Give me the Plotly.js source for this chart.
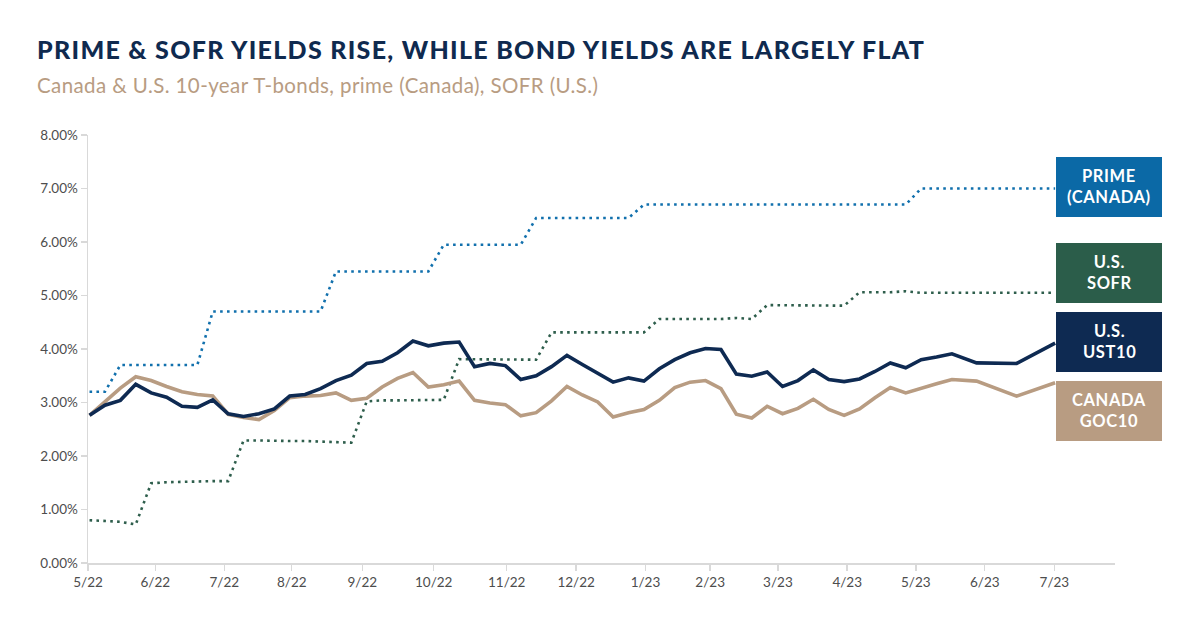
<!DOCTYPE html>
<html>
<head>
<meta charset="utf-8">
<script src="https://cdn.plot.ly/plotly-3.0.1.min.js"></script>
<style>
  html, body { margin: 0; padding: 0; background: #ffffff; }
  #chart { width: 1200px; height: 628px; }
</style>
</head>
<body>
<div id="chart"></div>
<script>
// ---- Data ----
// Position of each observation along the time axis (observation index)
const obsPos = [0,1,2,3,4,5,6,7,8,9,10,11,12,13,14,15,16,17,18,19,20,21,22,23,24,25,26,27,28,29,
  30,31,32,33,34,35,36,37,38,39,40,41,42,43,44,45,46,47,48,49,50,51,52,53,54,55,56,57.6,60.2,62.7];

const primeCanada = [3.20,3.20,3.70,3.70,3.70,3.70,3.70,3.70,4.70,4.70,4.70,4.70,4.70,4.70,4.70,4.70,
  5.45,5.45,5.45,5.45,5.45,5.45,5.45,5.95,5.95,5.95,5.95,5.95,5.95,6.45,6.45,6.45,6.45,6.45,6.45,6.45,
  6.70,6.70,6.70,6.70,6.70,6.70,6.70,6.70,6.70,6.70,6.70,6.70,6.70,6.70,6.70,6.70,6.70,6.70,
  7.00,7.00,7.00,7.00,7.00,7.00];

const usSofr = [0.80,0.79,0.77,0.72,1.49,1.51,1.52,1.53,1.53,1.53,2.29,2.29,2.28,2.28,2.28,2.27,2.27,2.25,
  3.02,3.04,3.04,3.04,3.04,3.05,3.81,3.81,3.81,3.80,3.80,3.80,4.31,4.31,4.31,4.31,4.31,4.31,4.31,
  4.56,4.56,4.56,4.56,4.56,4.58,4.56,4.82,4.82,4.82,4.81,4.81,4.81,5.06,5.06,5.06,5.08,5.05,5.05,5.05,
  5.05,5.05,5.05];

const usUst10 = [2.76,2.95,3.04,3.34,3.18,3.10,2.93,2.91,3.05,2.79,2.74,2.79,2.88,3.12,3.15,3.26,3.41,3.51,
  3.73,3.77,3.93,4.15,4.06,4.11,4.13,3.67,3.73,3.69,3.43,3.50,3.67,3.88,3.71,3.55,3.38,3.46,3.40,3.63,
  3.80,3.93,4.01,3.99,3.53,3.49,3.57,3.30,3.41,3.61,3.43,3.39,3.44,3.58,3.74,3.65,3.80,3.85,3.91,
  3.74,3.73,4.11];

const canadaGoc10 = [2.76,3.01,3.27,3.48,3.41,3.30,3.20,3.15,3.12,2.78,2.72,2.68,2.85,3.09,3.12,3.13,3.18,
  3.04,3.08,3.29,3.45,3.56,3.29,3.33,3.40,3.04,2.99,2.96,2.75,2.81,3.03,3.30,3.14,3.01,2.73,2.81,2.87,
  3.04,3.28,3.38,3.41,3.26,2.78,2.71,2.93,2.79,2.89,3.06,2.87,2.76,2.88,3.09,3.28,3.18,3.27,3.35,3.43,
  3.40,3.12,3.37];

const monthLabels = ['5/22','6/22','7/22','8/22','9/22','10/22','11/22','12/22','1/23','2/23','3/23','4/23','5/23','6/23','7/23'];
const monthTickPos = [-0.1,4.27,8.75,13.13,17.71,22.35,27.09,31.6,36.1,40.3,44.7,49.2,53.65,58.13,62.65];

const seriesBoxLabels = ['PRIME<br>(CANADA)', 'U.S.<br>SOFR', 'U.S.<br>UST10', 'CANADA<br>GOC10'];

// ---- Layout geometry (pixels) ----
const W = 1200, H = 628;
const M = { l: 88, r: 85, t: 135, b: 65 };
const plotW = W - M.l - M.r, plotH = H - M.t - M.b;
const px2x = p => (p - M.l) / plotW;
const px2y = p => (H - M.b - p) / plotH;

const COL = {
  navy: '#0e2a52', tan: '#b89c82', blue: '#1170ad', blueBox: '#0b69a6',
  green: '#2e5e4c', greenBox: '#2b5d4a', title: '#0f2a4f', tick: '#4d4d4d', axis: '#d9d9d9'
};
const FONT = 'Lato, "Open Sans", sans-serif';

const traces = [
  { x: obsPos, y: usSofr, type: 'scatter', mode: 'lines', name: 'U.S. SOFR',
    line: { color: COL.green, width: 2.6, dash: '2.6px,4.3px' }, hoverinfo: 'skip' },
  { x: obsPos, y: primeCanada, type: 'scatter', mode: 'lines', name: 'Prime (Canada)',
    line: { color: COL.blue, width: 2.6, dash: '2.6px,4.3px' }, hoverinfo: 'skip' },
  { x: obsPos, y: canadaGoc10, type: 'scatter', mode: 'lines', name: 'Canada GOC10',
    line: { color: COL.tan, width: 3.6 }, hoverinfo: 'skip' },
  { x: obsPos, y: usUst10, type: 'scatter', mode: 'lines', name: 'U.S. UST10',
    line: { color: COL.navy, width: 3.6 }, hoverinfo: 'skip' }
];

const boxes = [
  { top: 157, bottom: 217, color: COL.blueBox },
  { top: 243, bottom: 303, color: COL.greenBox },
  { top: 312, bottom: 372, color: COL.navy },
  { top: 381, bottom: 441, color: COL.tan }
];
const boxL = 1056, boxR = 1162;

const shapes = boxes.map(b => ({
  type: 'rect', xref: 'paper', yref: 'paper', layer: 'above',
  x0: px2x(boxL), x1: px2x(boxR), y0: px2y(b.bottom), y1: px2y(b.top),
  fillcolor: b.color, line: { width: 0 }
}));

const annotations = boxes.map((b, i) => ({
  xref: 'paper', yref: 'paper', x: px2x((boxL + boxR) / 2), y: px2y((b.top + b.bottom) / 2 - 1),
  xanchor: 'center', yanchor: 'middle', showarrow: false, borderpad: 0,
  text: '<span style="letter-spacing:0.6px"><b>' + seriesBoxLabels[i] + '</b></span>',
  font: { family: FONT, size: 16.5, color: '#ffffff' }
}));

annotations.push({
  xref: 'paper', yref: 'paper', x: px2x(35), y: px2y(49), xanchor: 'left', yanchor: 'middle',
  showarrow: false,
  text: '<span style="letter-spacing:1.3px;font-weight:900">PRIME &amp; SOFR YIELDS RISE, WHILE BOND YIELDS ARE LARGELY FLAT</span>',
  font: { family: FONT, size: 25, color: COL.title }
});
annotations.push({
  xref: 'paper', yref: 'paper', x: px2x(35), y: px2y(85), xanchor: 'left', yanchor: 'middle',
  showarrow: false,
  text: '<span style="letter-spacing:0.4px">Canada &amp; U.S. 10-year T-bonds, prime (Canada), SOFR (U.S.)</span>',
  font: { family: FONT, size: 20.5, color: COL.tan }
});

const layout = {
  width: W, height: H, margin: M, paper_bgcolor: '#ffffff', plot_bgcolor: '#ffffff',
  showlegend: false, font: { family: FONT, color: COL.tick },
  xaxis: {
    range: [-0.1, (plotW / 15.4) - 0.1], showgrid: false, zeroline: false,
    showline: true, linecolor: COL.axis, linewidth: 1.5,
    ticks: 'outside', ticklen: 6, tickcolor: COL.axis, tickwidth: 1.5,
    tickmode: 'array', tickvals: monthTickPos, ticktext: monthLabels,
    tickfont: { family: FONT, size: 13.5, color: COL.tick }
  },
  yaxis: {
    range: [0, 8], dtick: 1, tick0: 0, showgrid: false, zeroline: false,
    showline: true, linecolor: COL.axis, linewidth: 1.5,
    ticks: 'outside', ticklen: 6, tickcolor: COL.axis, tickwidth: 1.5,
    tickformat: '.2f', ticksuffix: '%',
    tickfont: { family: FONT, size: 13.5, color: COL.tick }
  },
  shapes: shapes, annotations: annotations
};

Plotly.newPlot('chart', traces, layout, { staticPlot: true, displayModeBar: false });
</script>
</body>
</html>
